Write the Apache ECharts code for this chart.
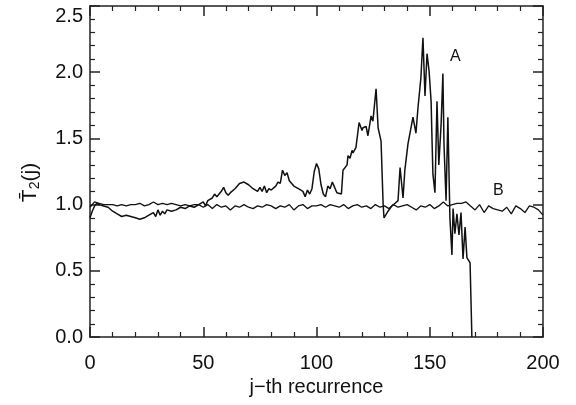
<!DOCTYPE html>
<html><head><meta charset="utf-8">
<script src="https://cdn.jsdelivr.net/npm/echarts@6/dist/echarts.min.js"></script>
<style>html,body{margin:0;padding:0;background:#fff}#c{width:576px;height:405px}</style>
</head><body><div id="c"></div>
<script>
const xTicks = [0, 50, 100, 150, 200];
const yTicks = [0.0, 0.5, 1.0, 1.5, 2.0, 2.5];

const aX = [0,1,2,3,4,6,8,10,12,14,16,18,20,22,24,26,28,29,30,31,32,33,34,36,38,40,42,44,46,48,50,51,
  52,54,55,56,58,59,60,61,62,64,66,68,70,72,74,75,76,77,78,79,80,82,83,84,85,86,87,88,90,92,94,95,96,97,98,99,100,101,102,103,104,105,106,107,109,111,
  111.7,113.5,113.9,114.8,115.7,116.1,117.4,118.8,120.1,120.5,121.9,122.7,124.1,124.9,126.3,127.2,128.5,129.4,129.8,131.6,133.3,134.7,136,136.9,138.2,139,140.4,142.6,143.9,144.8,146.1,147,147.9,148.8,149.7,150.6,150.9,151.4,152.3,153.2,154,155,155.8,156.3,157.2,158,158.9,159.8,160.3,161.1,162,162.9,163.8,164.7,165.6,166.4,167.8,168.6];
const aY = [0.90,0.95,0.99,1.01,1.00,0.99,0.98,0.95,0.93,0.91,0.92,0.91,0.90,0.89,0.90,0.92,0.94,0.91,0.96,0.92,0.95,0.93,0.96,0.95,0.96,0.98,0.97,0.99,0.98,1.00,1.02,0.99,
  1.03,1.05,1.08,1.06,1.10,1.13,1.09,1.07,1.09,1.12,1.16,1.17,1.15,1.12,1.10,1.13,1.10,1.14,1.09,1.12,1.11,1.14,1.17,1.16,1.26,1.22,1.24,1.18,1.14,1.12,1.10,1.06,1.11,1.08,1.12,1.25,1.31,1.27,1.15,1.08,1.06,1.14,1.12,1.17,1.09,1.08,
  1.26,1.30,1.37,1.35,1.41,1.39,1.43,1.62,1.56,1.58,1.59,1.52,1.67,1.63,1.875,1.58,1.48,1.01,0.90,0.95,0.99,1.01,1.03,1.28,1.05,1.26,1.46,1.66,1.54,1.73,1.96,2.26,1.82,2.14,2.01,1.78,1.56,1.23,1.09,1.78,1.30,1.60,1.99,1.45,1.03,1.66,0.90,0.62,0.97,0.78,0.93,0.77,0.94,0.59,0.83,0.60,0.56,0.0];

const bX = [0,2,4,6,8,10,12,14,16,18,20,22,24,26,28,30,32,34,36,38,40,42,44,46,48,50,52,54,56,58,60,62,64,66,68,70,72,74,76,78,80,82,84,86,88,90,92,94,96,98,100,102,104,106,108,110,112,114,116,118,120,122,124,126,128,130,132,134,136,138,140,142,144,146,148,150,152,154,156,158,160,162,164,166,168,170,172,174,176,178,180,182,184,186,188,190,192,194,196,198,200];
const bY = [0.98,1.02,1.01,1.00,1.00,1.00,0.99,1.00,0.99,1.00,1.00,1.01,0.99,1.00,1.02,1.00,1.01,1.00,1.01,1.00,0.99,1.00,0.99,1.00,1.00,0.98,1.00,0.97,1.00,0.98,0.99,0.96,0.99,0.98,1.00,0.98,0.97,0.99,0.98,1.00,0.99,0.97,0.99,0.98,1.00,0.96,0.99,1.00,0.97,0.99,0.99,1.00,0.98,1.00,0.99,0.98,1.00,0.97,0.99,1.00,0.98,0.99,0.97,1.00,0.98,0.99,0.97,1.00,0.98,0.99,1.00,0.98,0.96,0.99,0.98,1.00,0.97,0.99,1.02,0.99,1.00,1.01,1.01,1.02,0.99,0.96,1.00,0.94,0.99,0.97,0.96,0.95,0.98,0.93,0.99,0.97,0.94,0.99,0.98,0.96,0.92];

const seriesA = aX.map((x, i) => [x, aY[i]]);
const seriesB = bX.map((x, i) => [x, bY[i]]);

const axisCol = '#222';
const font = 'Liberation Sans, Arial, sans-serif';
function xAxisCfg(pos, show) {
  return {
    type: 'value', position: pos, min: 0, max: 200, interval: 50,
    axisLine: { show: true, onZero: false, lineStyle: { color: axisCol, width: 1.5 } },
    axisTick: { show: true, inside: true, length: 10, lineStyle: { color: axisCol, width: 1.5 } },
    minorTick: { show: true, splitNumber: 5, length: 5, lineStyle: { color: axisCol, width: 1.2 } },
    splitLine: { show: false },
    axisLabel: { show: show, margin: 16, fontSize: 20, color: '#111', fontFamily: font },
    name: show ? 'j\u2212th recurrence' : '', nameLocation: 'middle', nameGap: 37,
    nameTextStyle: { fontSize: 20, color: '#111', fontFamily: font }
  };
}
function yAxisCfg(pos, show) {
  return {
    type: 'value', position: pos, min: 0, max: 2.5, interval: 0.5,
    axisLine: { show: true, onZero: false, lineStyle: { color: axisCol, width: 1.5 } },
    axisTick: { show: true, inside: true, length: 10, lineStyle: { color: axisCol, width: 1.5 } },
    minorTick: { show: true, splitNumber: 5, length: 5, lineStyle: { color: axisCol, width: 1.2 } },
    splitLine: { show: false },
    axisLabel: { show: show, margin: 7, fontSize: 20, color: '#111', fontFamily: font,
      verticalAlignMaxLabel: 'top',
      formatter: v => v.toFixed(1) },
    name: show ? '{t|T\u0304}{s|2}{t|(j)}' : '', nameLocation: 'middle', nameGap: 48, nameRotate: 90,
    nameTextStyle: { color: '#111', fontFamily: font, fontSize: 21, padding: [0, 22, 0, 0],
      rich: { t: { fontSize: 21, fontFamily: font, color: '#111' },
              s: { fontSize: 14, fontFamily: font, color: '#111', verticalAlign: 'bottom', padding: [10, 0, 0, 0] } } }
  };
}

const chart = echarts.init(document.getElementById('c'), null, { renderer: 'canvas' });
chart.setOption({
  animation: false,
  backgroundColor: '#fff',
  grid: { left: 90, right: 33, top: 6, bottom: 68 },
  xAxis: [xAxisCfg('bottom', true), xAxisCfg('top', false)],
  yAxis: [yAxisCfg('left', true), yAxisCfg('right', false)],
  series: [
    { name: 'A', type: 'line', data: seriesA, showSymbol: false, symbol: 'none', xAxisIndex: 0, yAxisIndex: 0,
      lineStyle: { color: '#111', width: 1.5 }, clip: true },
    { name: 'B', type: 'line', data: seriesB, showSymbol: false, symbol: 'none', xAxisIndex: 0, yAxisIndex: 0,
      lineStyle: { color: '#111', width: 1.3 }, clip: true }
  ],
  graphic: [
    { type: 'text', left: 450, top: 49, style: { text: 'A', fontSize: 16, fontFamily: font, fill: '#111' } },
    { type: 'text', left: 493, top: 183, style: { text: 'B', fontSize: 16, fontFamily: font, fill: '#111' } }
  ]
});
</script></body></html>
